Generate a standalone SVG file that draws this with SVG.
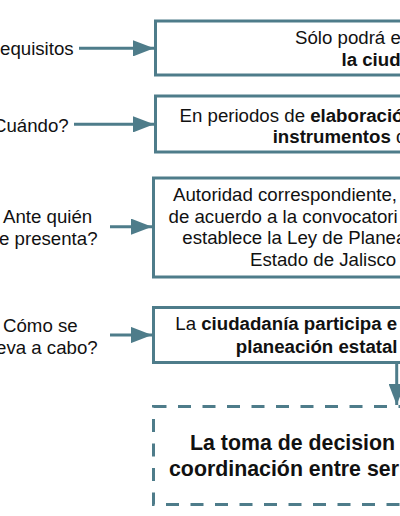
<svg xmlns="http://www.w3.org/2000/svg" width="400" height="516" viewBox="0 0 400 516">
<defs>
<marker id="ah" markerWidth="7" markerHeight="5.4" refX="7" refY="2.7" orient="auto" markerUnits="strokeWidth">
<path d="M0,0 L7,2.7 L0,5.4 Z" fill="#4e7c8a"/>
</marker>
</defs>
<style>
.box{fill:#fff;stroke:#4e7c8a;stroke-width:3}
.dash{fill:#fff;stroke:#4e7c8a;stroke-width:3;stroke-dasharray:13 11.5}
.con{stroke:#4e7c8a;stroke-width:3;fill:none;marker-end:url(#ah)}
text{font-family:"Liberation Sans",Arial,sans-serif;font-size:18.67px;fill:#111}
.b{font-weight:bold}
.big{font-size:21.33px;font-weight:bold}
</style>
<rect width="400" height="516" fill="#fff"/>
<g id="labels">
<text x="0" y="54.5">equisitos</text>
<text x="-7" y="132">Cuándo?</text>
<text x="3" y="223">Ante quién</text>
<text x="-1" y="245">e presenta?</text>
<text x="3" y="331.5">Cómo se</text>
<text x="-4" y="354">eva a cabo?</text>
</g>
<g id="box1">
<rect class="box" x="155.5" y="21" width="270" height="54"/>
<text x="295" y="44">Sólo podrá e</text>
<text class="b" x="341.5" y="65.5">la ciud</text>
</g>
<g id="box2">
<rect class="box" x="155.5" y="96" width="270" height="56"/>
<text x="179.5" y="121.7">En periodos de <tspan class="b">elaboració</tspan></text>
<text x="272.7" y="143.3"><tspan class="b">instrumentos </tspan>d</text>
</g>
<g id="box3">
<rect class="box" x="153.5" y="178" width="270" height="99"/>
<text x="173" y="201">Autoridad correspondiente,</text>
<text x="168.5" y="222.5">de acuerdo a la convocatori</text>
<text x="182.3" y="244">establece la Ley de Planea</text>
<text x="250" y="265.5">Estado de Jalisco</text>
</g>
<g id="box4">
<rect class="box" x="153.5" y="307.5" width="270" height="55"/>
<text x="175.3" y="330">La <tspan class="b">ciudadanía participa e</tspan></text>
<text class="b" x="235.8" y="352.7">planeación estatal</text>
</g>
<g id="box5">
<rect class="dash" x="153.5" y="406.5" width="270" height="98"/>
<text class="big" x="190" y="450">La toma de decision</text>
<text class="big" x="169" y="475.7">coordinación entre ser</text>
</g>
<g id="connectors">
<line class="con" x1="79" y1="48.3" x2="154" y2="48.3"/>
<line class="con" x1="74" y1="124.3" x2="154" y2="124.3"/>
<line class="con" x1="110" y1="226.7" x2="152" y2="226.7"/>
<line class="con" x1="110" y1="335" x2="152" y2="335"/>
<line class="con" x1="396.7" y1="362.5" x2="396.7" y2="405"/>
</g>
</svg>
